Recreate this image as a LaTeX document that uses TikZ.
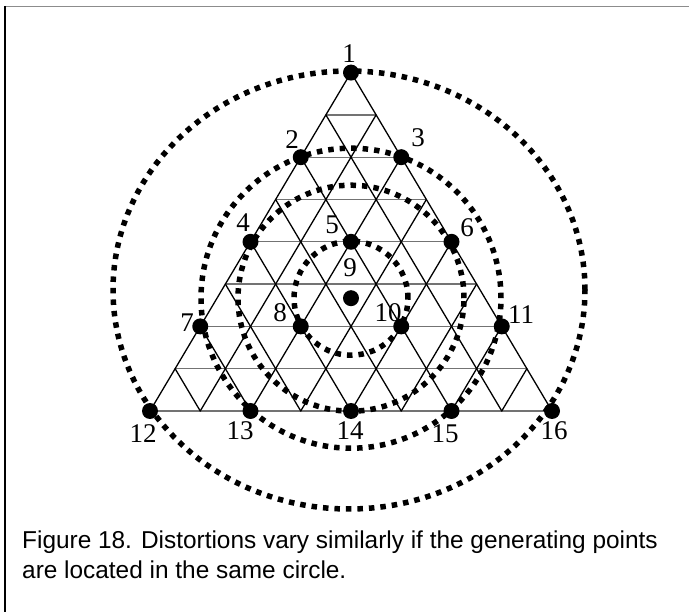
\documentclass[tikz,border=0pt]{standalone}
\usepackage{fontspec}
\setmainfont{Liberation Serif}
\setsansfont{Liberation Sans}
\usetikzlibrary{positioning}

\begin{document}
\begin{tikzpicture}[x=1pt, y=-1pt,
                    tri/.style={line width=1.3pt, line cap=round},
                    hl/.style={line width=1.3pt, black!55},
                    pt/.style={circle, fill=black, inner sep=0pt, minimum size=16pt},
                    num/.style={inner sep=0pt, font=\fontsize{27}{27}\selectfont},
                    ring/.style={line width=5.5pt, dash pattern=on 5.5pt off 6pt},
                    captxt/.style={anchor=base west, inner sep=0pt, font=\sffamily\fontsize{24.4}{31}\selectfont}]
  \useasboundingbox (0,0) rectangle (689,612);
  \draw[black!45, line width=0.8pt] (5,6) -- (689,6);
  \draw[line width=1.6pt] (5,6) -- (5,612);
  % lattice of the triangle
  \begin{scope}[shift={(150,411)}, x={(50.25pt,0pt)}, y={(25.125pt,42.3pt)}]
    \foreach \j in {0,...,7} \draw[hl] (0,\j) -- ({8-\j},\j);
    \foreach \i in {0,...,7} \draw[tri] (\i,0) -- (\i,{8-\i});
    \foreach \i in {1,...,8} \draw[tri] (\i,0) -- (0,\i);
    \node[pt] (p1)  at (0,8) {};
    \node[pt] (p2)  at (0,6) {};
    \node[pt] (p3)  at (2,6) {};
    \node[pt] (p4)  at (0,4) {};
    \node[pt] (p5)  at (2,4) {};
    \node[pt] (p6)  at (4,4) {};
    \node[pt] (p7)  at (0,2) {};
    \node[pt] (p8)  at (2,2) {};
    \node[pt] (p9)  at ({8/3},{8/3}) {};
    \node[pt] (p10) at (4,2) {};
    \node[pt] (p11) at (6,2) {};
    \node[pt] (p12) at (0,0) {};
    \node[pt] (p13) at (2,0) {};
    \node[pt] (p14) at (4,0) {};
    \node[pt] (p15) at (6,0) {};
    \node[pt] (p16) at (8,0) {};
  \end{scope}
  % circles
  \draw[ring] (p9.center) circle[radius=57pt];
  \draw[ring] (p9.center) circle[radius=113pt];
  \draw[ring] (p9.center) circle[radius=150pt];
  \draw[ring] (349,290) ellipse[x radius=236pt, y radius=219pt];
  % numbers
  \node[num] (n1)  at (349,54)  {1};
  \node[num] (n2)  at (292,140) {2};
  \node[num] (n3)  at (418,138) {3};
  \node[num] (n4)  at (243,223) {4};
  \node[num] (n5)  at (332,225) {5};
  \node[num] (n6)  at (467,228) {6};
  \node[num] (n7)  at (187,323) {7};
  \node[num] (n8)  at (280,313) {8};
  \node[num] (n9)  at (350,268) {9};
  \node[num] (n10) at (388,313) {10};
  \node[num] (n11) at (521,315) {11};
  \node[num] (n12) at (143,434) {12};
  \node[num] (n13) at (240,431) {13};
  \node[num] (n14) at (350,431) {14};
  \node[num] (n15) at (445,434) {15};
  \node[num] (n16) at (554,431) {16};
  % caption
  \node[captxt] (cap1) at (22,548) {Figure 18.  Distortions vary similarly if the generating points};
  \node[captxt] (cap2) at (22,579) {are located in the same circle.};
\end{tikzpicture}
\end{document}
